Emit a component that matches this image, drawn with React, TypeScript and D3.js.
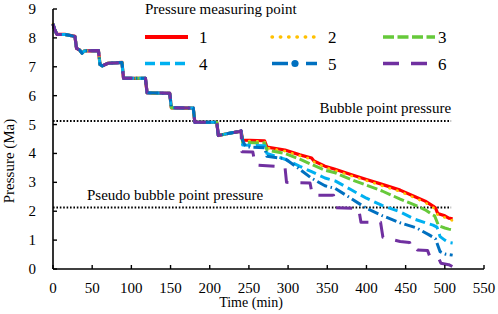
import React from "react";
import * as d3 from "d3";

const xTicks = [0, 50, 100, 150, 200, 250, 300, 350, 400, 450, 500, 550];
const yTicks = [0, 1, 2, 3, 4, 5, 6, 7, 8, 9];

const bubblePoint = 5.12;
const pseudoBubblePoint = 2.13;
const refLineEnd = 508;

// shared staircase (all measuring points coincide until ~240 min)
const baseTimes = [0, 2, 5, 15, 28, 30, 34, 37, 40, 58, 60, 63, 70, 88, 90, 118, 120, 149, 151, 179, 181, 209, 211, 225, 238, 240];
const basePressure = [8.48, 8.3, 8.12, 8.12, 8.05, 7.64, 7.58, 7.47, 7.55, 7.56, 7.08, 7.03, 7.12, 7.15, 6.6, 6.6, 6.1, 6.08, 5.58, 5.57, 5.08, 5.08, 4.62, 4.7, 4.76, 4.78];

const p1Times = [242, 270, 273, 296, 315, 330, 333, 347, 360, 380, 400, 420, 443, 462, 475, 485, 488, 491, 500, 505, 510];
const p1Values = [4.46, 4.44, 4.22, 4.12, 3.95, 3.84, 3.74, 3.56, 3.45, 3.27, 3.1, 2.93, 2.73, 2.5, 2.35, 2.18, 2.12, 1.92, 1.84, 1.76, 1.74];

const p2Times = [242, 270, 273, 296, 315, 330, 333, 347, 360, 380, 400, 420, 443, 462, 475, 485, 488, 491, 500, 505, 510];
const p2Values = [4.44, 4.41, 4.19, 4.08, 3.92, 3.8, 3.71, 3.52, 3.41, 3.23, 3.06, 2.88, 2.68, 2.46, 2.3, 2.13, 2.06, 1.86, 1.78, 1.7, 1.68];

const p3Times = [242, 270, 273, 296, 315, 330, 347, 360, 380, 400, 420, 443, 462, 475, 484, 487, 492, 500, 505, 510];
const p3Values = [4.38, 4.36, 4.12, 4.0, 3.8, 3.62, 3.42, 3.33, 3.1, 2.9, 2.7, 2.42, 2.21, 2.05, 1.88, 1.84, 1.5, 1.42, 1.38, 1.35];

const p4Times = [242, 270, 273, 296, 315, 330, 347, 360, 380, 400, 420, 443, 462, 475, 485, 490, 494, 500, 505, 510];
const p4Values = [4.29, 4.27, 4.0, 3.8, 3.55, 3.37, 3.15, 3.05, 2.75, 2.45, 2.2, 1.98, 1.72, 1.6, 1.52, 1.45, 1.12, 1.0, 0.92, 0.9];

const p5Times = [242, 246, 270, 273, 296, 315, 330, 347, 360, 380, 400, 420, 443, 464, 480, 488, 494, 500, 510];
const p5Values = [4.45, 4.23, 4.2, 3.9, 3.82, 3.45, 3.14, 2.88, 2.79, 2.45, 2.1, 1.85, 1.6, 1.42, 1.18, 1.05, 0.6, 0.52, 0.48];

const p6Times = [241, 255, 258, 296, 298, 328, 331, 358, 361, 390, 393, 418, 421, 443, 455, 458, 462, 465, 478, 481, 492, 495, 505, 510];
const p6Values = [4.06, 4.05, 3.6, 3.54, 3.0, 2.98, 2.56, 2.55, 2.12, 2.1, 1.62, 1.62, 1.1, 0.95, 0.92, 0.72, 0.78, 0.66, 0.64, 0.42, 0.38, 0.2, 0.15, 0.08];

const seriesNames = ["1", "2", "3", "4", "5", "6"];
const seriesColors = ["#FF0000", "#FFC000", "#66C93A", "#00B0F0", "#0070C0", "#7030A0"];
const seriesDash = ["none", "0.5 7.5", "11 3.5", "10 5", "11 3.5 1.5 3.5", "16 12"];
const seriesWidth = [3.2, 2.6, 3, 3, 3, 3];
const seriesTails: [number[], number[]][] = [
  [p1Times, p1Values],
  [p2Times, p2Values],
  [p3Times, p3Values],
  [p4Times, p4Values],
  [p5Times, p5Values],
  [p6Times, p6Values],
];

const W = 498;
const H = 314;
const font = '"Liberation Serif", "Times New Roman", "DejaVu Serif", serif';

export default function App() {
  const x = d3.scaleLinear().domain([0, 550]).range([53, 484]);
  const y = d3.scaleLinear().domain([0, 9]).range([269, 9]);
  const line = d3
    .line<[number, number]>()
    .x((d) => x(d[0]))
    .y((d) => y(d[1]));

  const seriesData = seriesTails.map(([ts, vs]) => {
    const pts: [number, number][] = baseTimes.map((t, i) => [t, basePressure[i]]);
    ts.forEach((t, i) => pts.push([t, vs[i]]));
    return pts;
  });

  const legendCols = [
    { x0: 145, x1: 188, tx: 199 },
    { x0: 272, x1: 317, tx: 328 },
    { x0: 383, x1: 435, tx: 438 },
  ];
  const legendRows = [37, 63.5];
  const legendOrder = [0, 1, 2, 3, 4, 5];
  const ts = { fontFamily: font };

  return (
    <svg
      width={W}
      height={H}
      style={{ position: "absolute", left: 0, top: 0, background: "#fff", fontFamily: font }}
    >
      {/* reference lines */}
      <line
        x1={x(0)}
        x2={x(refLineEnd)}
        y1={y(bubblePoint)}
        y2={y(bubblePoint)}
        stroke="#000"
        strokeWidth={2}
        strokeDasharray="1.6 1.8"
      />
      <line
        x1={x(0)}
        x2={x(refLineEnd)}
        y1={y(pseudoBubblePoint)}
        y2={y(pseudoBubblePoint)}
        stroke="#000"
        strokeWidth={2}
        strokeDasharray="1.6 1.8"
      />
      <text x={x(508)} y={y(bubblePoint) - 8} fontSize={15} textAnchor="end" fill="#000" style={ts}>
        Bubble point pressure
      </text>
      <text x={87} y={y(pseudoBubblePoint) - 7} fontSize={15} fill="#000" style={ts}>
        Pseudo bubble point pressure
      </text>

      {/* series */}
      {seriesData.map((pts, i) => (
        <path
          key={i}
          d={line(pts) || ""}
          fill="none"
          stroke={seriesColors[i]}
          strokeWidth={seriesWidth[i]}
          strokeDasharray={seriesDash[i]}
          strokeLinecap={i === 1 ? "round" : "butt"}
          strokeLinejoin="round"
        />
      ))}

      {/* axes */}
      <line x1={x(0)} x2={x(550)} y1={y(0)} y2={y(0)} stroke="#000" strokeWidth={1.6} />
      <line x1={x(0)} x2={x(0)} y1={y(0)} y2={y(9)} stroke="#000" strokeWidth={1.6} />
      {xTicks.map((t) => (
        <g key={"x" + t}>
          <line x1={x(t)} x2={x(t)} y1={y(0)} y2={y(0) - 4} stroke="#000" strokeWidth={1.4} />
          <text x={x(t)} y={293} fontSize={15} textAnchor="middle" fill="#000" style={ts}>
            {t}
          </text>
        </g>
      ))}
      {yTicks.map((t) => (
        <g key={"y" + t}>
          <line x1={x(0)} x2={x(0) + 4} y1={y(t)} y2={y(t)} stroke="#000" strokeWidth={1.4} />
          <text x={36} y={y(t) + 5} fontSize={15} textAnchor="end" fill="#000" style={ts}>
            {t}
          </text>
        </g>
      ))}
      <text x={251} y={307} fontSize={14} textAnchor="middle" fill="#000" style={ts}>
        Time (min)
      </text>
      <text
        transform={`translate(14,161) rotate(-90)`}
        fontSize={15}
        textAnchor="middle"
        fill="#000"
        style={ts}
      >
        Pressure (Ma)
      </text>

      {/* legend */}
      <text x={145} y={14} fontSize={15} fill="#000" style={ts}>
        Pressure measuring point
      </text>
      {legendOrder.map((i) => {
        const col = legendCols[i % 3];
        const ly = legendRows[Math.floor(i / 3)];
        const isFive = i === 4;
        return (
          <g key={"lg" + i}>
            <line
              x1={col.x0}
              x2={col.x1}
              y1={ly}
              y2={ly}
              stroke={seriesColors[i]}
              strokeWidth={i === 0 ? 4 : 3.4}
              strokeDasharray={
                isFive ? "16 18" : i === 5 ? "16 12" : i === 1 ? "0.5 7.8" : i === 3 ? "10 5" : seriesDash[i]
              }
              strokeLinecap={i === 1 ? "round" : "butt"}
            />
            {isFive && <circle cx={(col.x0 + col.x1) / 2 + 0.5} cy={ly} r={3.6} fill={seriesColors[i]} />}
            <text x={col.tx} y={ly + 6} fontSize={17} fill="#000" style={ts}>
              {seriesNames[i]}
            </text>
          </g>
        );
      })}
    </svg>
  );
}
